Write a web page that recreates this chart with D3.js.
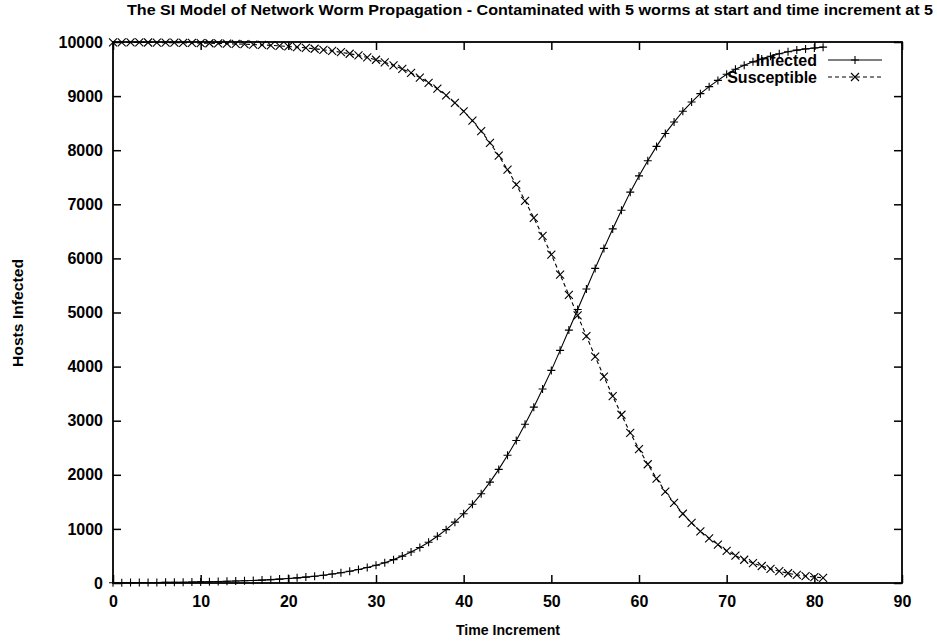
<!DOCTYPE html>
<html>
<head>
<meta charset="utf-8">
<script src="https://cdn.jsdelivr.net/npm/d3@7"></script>
<style>
  html, body { margin: 0; padding: 0; background: #fff; }
  svg { display: block; }
  text { font-family: "Liberation Sans", Arial, Helvetica, sans-serif; font-weight: bold; fill: #000; }
</style>
</head>
<body>
<svg id="chart" width="937" height="641"></svg>
<script>
const title = "The SI Model of Network Worm Propagation - Contaminated with 5 worms at start and time increment at 5";
const xLabel = "Time Increment";
const yLabel = "Hosts Infected";
const seriesNames = ["Infected", "Susceptible"];
const xTicks = [0, 10, 20, 30, 40, 50, 60, 70, 80, 90];
const yTicks = [0, 1000, 2000, 3000, 4000, 5000, 6000, 7000, 8000, 9000, 10000];
const timeSteps = [0,1,2,3,4,5,6,7,8,9,10,11,12,13,14,15,16,17,18,19,20,21,22,23,24,25,26,27,28,29,30,31,32,33,34,35,36,37,38,39,40,41,42,43,44,45,46,47,48,49,50,51,52,53,54,55,56,57,58,59,60,61,62,63,64,65,66,67,68,69,70,71,72,73,74,75,76,77,78,79,80,81];
const infected = [5,6,7,8,9,10,12,13,15,18,20,23,27,31,36,41,47,54,62,72,82,95,109,125,144,165,189,217,249,286,328,375,432,497,572,657,754,863,986,1125,1281,1455,1649,1865,2100,2360,2635,2935,3250,3585,3930,4300,4675,5055,5435,5815,6185,6545,6890,7225,7525,7805,8070,8310,8520,8720,8890,9045,9175,9290,9405,9495,9570,9633,9686,9737,9782,9820,9850,9872,9890,9905];
const susceptible = [9995,9994,9993,9992,9991,9990,9988,9987,9985,9982,9980,9977,9973,9969,9964,9959,9953,9946,9938,9928,9918,9905,9891,9875,9856,9835,9811,9783,9751,9714,9672,9625,9568,9503,9428,9343,9246,9137,9014,8875,8719,8545,8351,8135,7900,7640,7365,7065,6750,6415,6070,5700,5325,4945,4565,4185,3815,3455,3110,2775,2475,2195,1930,1690,1480,1280,1110,955,825,710,595,505,430,367,314,263,218,180,150,128,110,95];

const svg = d3.select("#chart");
const L = 113, R = 902, T = 42, B = 583;
const x = d3.scaleLinear().domain([0, 90]).range([L, R]);
const y = d3.scaleLinear().domain([0, 10000]).range([B, T]);

// Axes (ticks inward, mirrored)
const gx = svg.append("g").attr("transform", `translate(0,${B})`)
  .call(d3.axisBottom(x).tickValues(xTicks).tickFormat(d3.format("d")).tickSize(-8).tickSizeOuter(0).tickPadding(13));
const gy = svg.append("g").attr("transform", `translate(${L},0)`)
  .call(d3.axisLeft(y).tickValues(yTicks).tickFormat(d3.format("d")).tickSize(-8).tickSizeOuter(0).tickPadding(10));
const gxt = svg.append("g").attr("transform", `translate(0,${T})`)
  .call(d3.axisTop(x).tickValues(xTicks).tickFormat("").tickSize(-8).tickSizeOuter(0));
const gyr = svg.append("g").attr("transform", `translate(${R},0)`)
  .call(d3.axisRight(y).tickValues(yTicks).tickFormat("").tickSize(-8).tickSizeOuter(0));
[gx, gy, gxt, gyr].forEach(g => {
  g.select(".domain").remove();
  g.selectAll("line").attr("stroke", "#000").attr("stroke-width", 1.5);
  g.selectAll("text").style("font-size", "16px").style("font-family", "'Liberation Sans', Arial, sans-serif").style("font-weight", "bold");
});

// Frame
svg.append("rect").attr("x", L).attr("y", T).attr("width", R - L).attr("height", B - T)
  .attr("fill", "none").attr("stroke", "#000").attr("stroke-width", 1.8);

// Titles
svg.append("text").attr("x", 530).attr("y", 15).attr("text-anchor", "middle")
  .style("font-size", "15px").attr("textLength", 806).attr("lengthAdjust", "spacingAndGlyphs").text(title);
svg.append("text").attr("x", 508).attr("y", 635).attr("text-anchor", "middle")
  .style("font-size", "14px").attr("textLength", 104).attr("lengthAdjust", "spacingAndGlyphs").text(xLabel);
svg.append("text").attr("transform", "translate(23,313) rotate(-90)").attr("text-anchor", "middle")
  .style("font-size", "14px").attr("textLength", 108).attr("lengthAdjust", "spacingAndGlyphs").text(yLabel);

// Data
const dataI = timeSteps.map((t, i) => ({ t, v: infected[i] }));
const dataS = timeSteps.map((t, i) => ({ t, v: susceptible[i] }));
const line = d3.line().x(d => x(d.t)).y(d => y(d.v));

const plus = s => `M${-s},0H${s}M0,${-s}V${s}`;
const cross = s => `M${-s},${-s}L${s},${s}M${-s},${s}L${s},${-s}`;

svg.append("path").datum(dataI).attr("d", line).attr("fill", "none").attr("stroke", "#000").attr("stroke-width", 1.1);
svg.append("g").selectAll("path").data(dataI).join("path")
  .attr("transform", d => `translate(${x(d.t)},${y(d.v)})`).attr("d", plus(4))
  .attr("stroke", "#000").attr("stroke-width", 1.1).attr("fill", "none");

svg.append("path").datum(dataS).attr("d", line).attr("fill", "none").attr("stroke", "#000")
  .attr("stroke-width", 1.1).attr("stroke-dasharray", "4,3");
svg.append("g").selectAll("path").data(dataS).join("path")
  .attr("transform", d => `translate(${x(d.t)},${y(d.v)})`).attr("d", cross(4))
  .attr("stroke", "#000").attr("stroke-width", 1.1).attr("fill", "none");

// Legend
const legend = svg.append("g");
const legRows = [{ name: seriesNames[0], y: 60, dash: null, sym: plus(4) },
                 { name: seriesNames[1], y: 77, dash: "4,3", sym: cross(4) }];
legRows.forEach(r => {
  legend.append("text").attr("x", 817).attr("y", r.y).attr("dy", "0.35em").attr("text-anchor", "end")
    .style("font-size", "16px").text(r.name);
  legend.append("line").attr("x1", 828).attr("x2", 882).attr("y1", r.y).attr("y2", r.y)
    .attr("stroke", "#000").attr("stroke-width", 1.1).attr("stroke-dasharray", r.dash);
  legend.append("path").attr("transform", `translate(855,${r.y})`).attr("d", r.sym)
    .attr("stroke", "#000").attr("stroke-width", 1.1).attr("fill", "none");
});
</script>
</body>
</html>
